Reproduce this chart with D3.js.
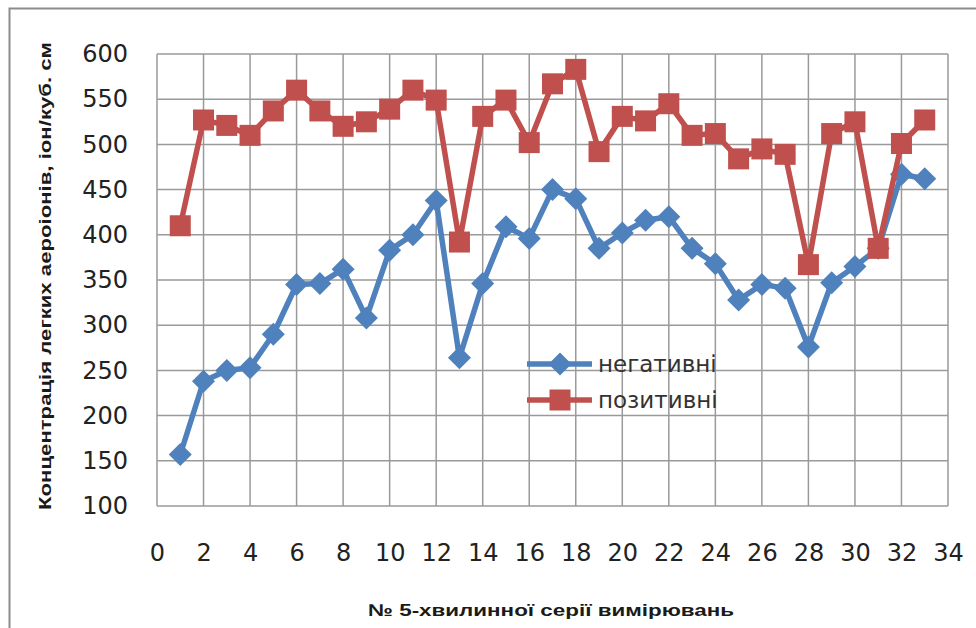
<!DOCTYPE html>
<html><head><meta charset="utf-8">
<script src="https://cdn.jsdelivr.net/npm/d3@7"></script>
<style>body{margin:0;background:#fff}svg{display:block}</style>
</head><body>
<svg id="c" width="976" height="628"></svg>
<script>
const seriesX = d3.range(1, 34);
const negative = [157,238,250,253,290,345,346,362,308,383,400,438,264,346,409,396,450,440,385,402,416,420,385,368,328,345,341,276,347,365,385,467,462];
const positive = [410,527,521,510,537,560,537,520,525,539,560,549,392,531,549,502,567,583,492,531,526,545,510,512,484,495,489,367,512,525,385,501,527];
const seriesNames = ["негативні", "позитивні"];
const xTicks = d3.range(0, 35, 2);
const yTicks = d3.range(100, 601, 50);
const yTitle = "Концентрація легких аероіонів, іон/куб. см";
const xTitle = "№ 5-хвилинної серії вимірювань";

const svg = d3.select("#c");
const L = 157, R = 948, T = 54, B = 506;
const x = d3.scaleLinear().domain([0, 34]).range([L, R]);
const y = d3.scaleLinear().domain([100, 600]).range([B, T]);
const grid = "#9a9a9a";
const font = "DejaVu Sans, sans-serif";

svg.append("rect").attr("x", 9.5).attr("y", 8.5).attr("width", 1000).attr("height", 700)
  .attr("fill", "none").attr("stroke", "#8c8c8c").attr("stroke-width", 2);

const g = svg.append("g");
g.selectAll(".hg").data(yTicks).join("line")
  .attr("x1", L).attr("x2", R).attr("y1", d => y(d)).attr("y2", d => y(d))
  .attr("stroke", grid).attr("stroke-width", 1.5);
g.selectAll(".vg").data(xTicks).join("line")
  .attr("y1", T).attr("y2", B).attr("x1", d => x(d)).attr("x2", d => x(d))
  .attr("stroke", grid).attr("stroke-width", 1.5);

const yAxis = svg.append("g").attr("transform", `translate(${L},0)`)
  .call(d3.axisLeft(y).tickValues(yTicks).tickSize(0).tickPadding(29));
yAxis.select(".domain").remove();
yAxis.selectAll("text").attr("font-family", font).attr("font-size", 24).attr("fill", "#222");

const xAxis = svg.append("g").attr("transform", `translate(0,${B})`)
  .call(d3.axisBottom(x).tickValues(xTicks).tickSize(0).tickPadding(38));
xAxis.select(".domain").remove();
xAxis.selectAll("text").attr("font-family", font).attr("font-size", 24).attr("fill", "#222");

const colors = ["#4f81bd", "#c0504d"];
const data = [negative, positive];
const line = d3.line().x((d, i) => x(seriesX[i])).y(d => y(d));

data.forEach((vals, si) => {
  const sg = svg.append("g");
  sg.append("path").datum(vals).attr("d", line).attr("fill", "none")
    .attr("stroke", colors[si]).attr("stroke-width", 5.5).attr("stroke-linejoin", "round");
  if (si === 0) {
    sg.selectAll("path.m").data(vals).join("path").attr("class", "m")
      .attr("d", "M0,-11.5L11.5,0L0,11.5L-11.5,0Z")
      .attr("transform", (d, i) => `translate(${x(seriesX[i])},${y(d)})`)
      .attr("fill", colors[si]);
  } else {
    sg.selectAll("rect.m").data(vals).join("rect").attr("class", "m")
      .attr("x", (d, i) => x(seriesX[i]) - 10.5).attr("y", d => y(d) - 10.5)
      .attr("width", 21).attr("height", 21).attr("fill", colors[si]);
  }
});

const leg = svg.append("g");
seriesNames.forEach((name, i) => {
  const ly = 364 + i * 36;
  leg.append("line").attr("x1", 527).attr("x2", 592).attr("y1", ly).attr("y2", ly)
    .attr("stroke", colors[i]).attr("stroke-width", 5.5);
  if (i === 0) {
    leg.append("path").attr("d", "M0,-11.5L11.5,0L0,11.5L-11.5,0Z")
      .attr("transform", `translate(560,${ly})`).attr("fill", colors[i]);
  } else {
    leg.append("rect").attr("x", 549.5).attr("y", ly - 10.5).attr("width", 21).attr("height", 21).attr("fill", colors[i]);
  }
  leg.append("text").attr("x", 598).attr("y", ly + 8).text(name)
    .attr("font-family", font).attr("font-size", 23).attr("fill", "#333");
});

svg.append("text").attr("transform", "translate(51,276) rotate(-90)")
  .attr("text-anchor", "middle").attr("font-family", "Liberation Sans, Arial, sans-serif")
  .attr("font-weight", "bold").attr("font-size", 17).attr("fill", "#1a1a1a")
  .attr("textLength", 468).attr("lengthAdjust", "spacingAndGlyphs").text(yTitle);
svg.append("text").attr("x", 551).attr("y", 616)
  .attr("text-anchor", "middle").attr("font-family", "Liberation Sans, Arial, sans-serif")
  .attr("font-weight", "bold").attr("font-size", 17).attr("fill", "#1a1a1a")
  .attr("textLength", 366).attr("lengthAdjust", "spacingAndGlyphs").text(xTitle);
</script>
</body></html>
